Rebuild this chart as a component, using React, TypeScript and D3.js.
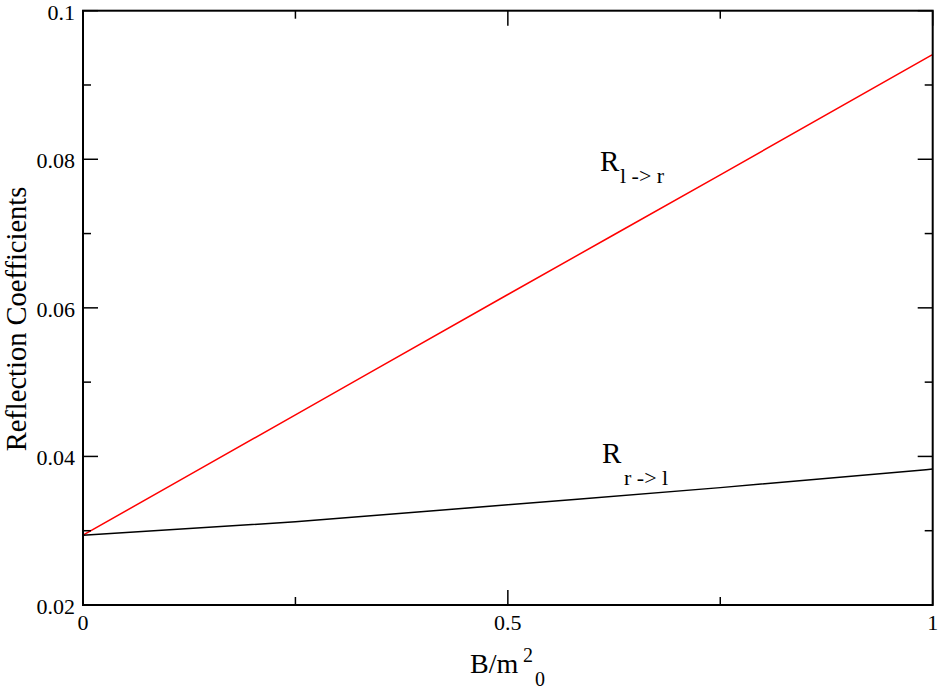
import React from "react";
import * as d3 from "d3";

const xValues = [0, 0.25, 0.5, 0.75, 1];
const rLeftToRight = [0.0294, 0.0456, 0.0618, 0.0779, 0.0941];
const rRightToLeft = [0.0294, 0.0312, 0.0335, 0.0358, 0.0383];
const xMajorTicks = [0, 0.5, 1];
const xMinorTicks = [0.25, 0.75];
const yMajorTicks = [0.02, 0.04, 0.06, 0.08, 0.1];
const yMinorTicks = [0.03, 0.05, 0.07, 0.09];
const yTickLabels = ["0.02", "0.04", "0.06", "0.08", "0.1"];
const xTickLabels = ["0", "0.5", "1"];

const W = 941;
const H = 689;
const M = { left: 83, right: 8.3, top: 10.7, bottom: 84 };
const FONT = "Liberation Serif, Times New Roman, Times, serif";
const fs = (size: number) => ({ fontFamily: FONT, fontSize: size + "px" });

export default function App() {
  const x = d3.scaleLinear().domain([0, 1]).range([M.left, W - M.right]);
  const y = d3.scaleLinear().domain([0.02, 0.1]).range([H - M.bottom, M.top]);
  const line = d3
    .line<number>()
    .x((_, i) => x(xValues[i]))
    .y((d) => y(d))
    .curve(d3.curveMonotoneX);

  const x0 = x(0), x1 = x(1), y0 = y(0.02), y1 = y(0.1);
  const major = 15;
  const minor = 8;

  return (
    <div style={{ position: "absolute", left: 0, top: 0 }}>
      <svg width={W} height={H} style={{ display: "block", background: "#fff" }}>
        <path d={line(rLeftToRight) || ""} fill="none" stroke="#ff0000" strokeWidth={1.5} />
        <path d={line(rRightToLeft) || ""} fill="none" stroke="#000" strokeWidth={1.5} />

        <rect x={x0} y={y1} width={x1 - x0} height={y0 - y1} fill="none" stroke="#000" strokeWidth={2} />

        {xMajorTicks.map((t) => (
          <g key={"xM" + t}>
            <line x1={x(t)} x2={x(t)} y1={y0} y2={y0 - major} stroke="#000" strokeWidth={1.5} />
            <line x1={x(t)} x2={x(t)} y1={y1} y2={y1 + major} stroke="#000" strokeWidth={1.5} />
          </g>
        ))}
        {xMinorTicks.map((t) => (
          <g key={"xm" + t}>
            <line x1={x(t)} x2={x(t)} y1={y0} y2={y0 - minor} stroke="#000" strokeWidth={1.5} />
            <line x1={x(t)} x2={x(t)} y1={y1} y2={y1 + minor} stroke="#000" strokeWidth={1.5} />
          </g>
        ))}
        {yMajorTicks.map((t) => (
          <g key={"yM" + t}>
            <line x1={x0} x2={x0 + major} y1={y(t)} y2={y(t)} stroke="#000" strokeWidth={1.5} />
            <line x1={x1} x2={x1 - major} y1={y(t)} y2={y(t)} stroke="#000" strokeWidth={1.5} />
          </g>
        ))}
        {yMinorTicks.map((t) => (
          <g key={"ym" + t}>
            <line x1={x0} x2={x0 + minor} y1={y(t)} y2={y(t)} stroke="#000" strokeWidth={1.5} />
            <line x1={x1} x2={x1 - minor} y1={y(t)} y2={y(t)} stroke="#000" strokeWidth={1.5} />
          </g>
        ))}

        {yMajorTicks.map((t, i) => (
          <text key={"yl" + t} x={x0 - 8} y={y(t)} dy="0.4em" textAnchor="end" style={fs(22)}>
            {yTickLabels[i]}
          </text>
        ))}
        {xMajorTicks.map((t, i) => (
          <text key={"xl" + t} x={x(t)} y={630} textAnchor="middle" style={fs(22)}>
            {xTickLabels[i]}
          </text>
        ))}

        <text
          transform={`translate(25.5, 319) rotate(-90)`}
          textAnchor="middle"
          style={fs(28.5)}
        >
          Reflection Coefficients
        </text>

        <text x={470} y={673} style={fs(28)}>
          B/m
          <tspan x={523} y={662} style={{ fontSize: "20px" }}>2</tspan>
          <tspan x={535} y={686} style={{ fontSize: "20px" }}>0</tspan>
        </text>

        <text x={600} y={171} style={fs(29)}>
          R<tspan x={620} y={183} style={{ fontSize: "22px" }}>l -&gt; r</tspan>
        </text>
        <text x={602} y={463} style={fs(29)}>
          R<tspan x={624} y={485} style={{ fontSize: "22px" }}>r -&gt; l</tspan>
        </text>
      </svg>
    </div>
  );
}
